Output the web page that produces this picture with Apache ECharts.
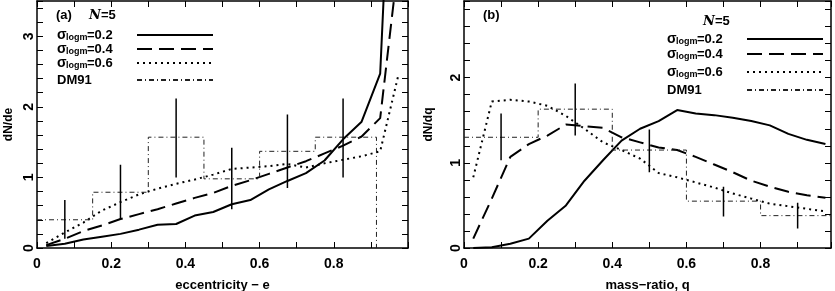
<!DOCTYPE html>
<html><head><meta charset="utf-8">
<script src="https://cdn.jsdelivr.net/npm/echarts@6/dist/echarts.min.js"></script>
<style>html,body{margin:0;padding:0;background:#fff}#c{width:835px;height:291px}</style>
</head><body><div id="c"></div>
<script>
// ---- data: panel (a) eccentricity ----
const eX = [0.025,0.075,0.125,0.175,0.225,0.275,0.325,0.375,0.425,0.475,0.525,0.575,0.625,0.675,0.725,0.775,0.825,0.875,0.925,0.975];
const eS02 = [0.03,0.06,0.12,0.16,0.20,0.26,0.33,0.34,0.46,0.51,0.62,0.68,0.83,0.95,1.06,1.24,1.54,1.79,2.47,8.2];
const eS04 = [0.04,0.13,0.24,0.32,0.41,0.48,0.55,0.63,0.71,0.78,0.88,0.96,1.05,1.14,1.23,1.34,1.45,1.58,1.84,4.1];
const eS06 = [0.07,0.22,0.36,0.53,0.65,0.76,0.84,0.91,0.97,1.04,1.12,1.14,1.16,1.19,1.14,1.20,1.25,1.30,1.37,2.47];
const eDMEdges = [0,0.15,0.3,0.45,0.6,0.75,0.915];
const eDMVals = [0.40,0.79,1.57,0.98,1.37,1.57];
const eErrX = [0.075,0.225,0.375,0.525,0.675,0.825];
const eErrLo = [0.13,0.40,1.00,0.55,0.85,1.00];
const eErrHi = [0.68,1.18,2.12,1.42,1.89,2.12];
// ---- data: panel (b) mass ratio ----
const qX = eX;
const qS02 = [0.00,0.01,0.05,0.11,0.32,0.50,0.79,1.03,1.26,1.40,1.49,1.62,1.58,1.56,1.53,1.49,1.44,1.34,1.27,1.22];
const qS04 = [0.11,0.58,1.07,1.22,1.32,1.45,1.43,1.41,1.30,1.24,1.18,1.15,1.07,0.98,0.89,0.79,0.72,0.66,0.62,0.59];
const qS06 = [0.83,1.72,1.74,1.72,1.67,1.55,1.40,1.24,1.15,1.05,0.88,0.83,0.77,0.71,0.64,0.58,0.52,0.49,0.46,0.43];
const qDMEdges = [0,0.2,0.4,0.6,0.8,1.0];
const qDMVals = [1.30,1.63,1.15,0.55,0.38];
const qErrX = [0.1,0.3,0.5,0.7,0.9];
const qErrLo = [1.03,1.32,0.89,0.37,0.23];
const qErrHi = [1.58,1.93,1.39,0.72,0.53];
const names = ['σ=0.2','σ=0.4','σ=0.6','DM91'];

const FONT = 'Liberation Sans';
function zip(x,y){return x.map((v,i)=>[v,y[i]]);}
function steps(edges,vals){const p=[];vals.forEach((v,i)=>{p.push([edges[i],v]);p.push([edges[i+1],v]);});p.push([edges[edges.length-1],0]);return p;}
function errs(x,lo,hi){const p=[];x.forEach((v,i)=>{p.push([v,lo[i]]);p.push([v,hi[i]]);p.push('-');});return p;}

function xAx(gi, max, name, pos){
  const main = pos==='bottom';
  return {type:'value', gridIndex:gi, position:pos, min:0, max:max, interval:0.1,
    name: main?name:'', nameLocation:'middle', nameGap:31,
    nameTextStyle:{fontFamily:FONT,fontWeight:'bold',fontSize:13,color:'#000'},
    axisLine:{show:true,onZero:false,lineStyle:{color:'#000',width:1.5}},
    axisTick:{show:true,inside:true,length:6,lineStyle:{color:'#000',width:1}},
    splitLine:{show:false},
    axisLabel:{show:main,margin:9,fontFamily:FONT,fontWeight:'bold',fontSize:14,color:'#000',
      formatter:v=>{const k=v*5;if(Math.abs(k-Math.round(k))>1e-6)return '';if(Math.abs(v)<1e-9)return '0';if(v>0.95)return '';return v.toFixed(1);}}};
}
function yAx(gi, max, name, pos, gap){
  const main = pos==='left';
  return {type:'value', gridIndex:gi, position:pos, min:0, max:max, interval:0.2,
    name: main?name:'', nameLocation:'middle', nameGap:gap||22, nameRotate:90,
    nameTextStyle:{fontFamily:FONT,fontWeight:'bold',fontSize:12,color:'#000'},
    axisLine:{show:true,onZero:false,lineStyle:{color:'#000',width:1.5}},
    axisTick:{show:true,inside:true,length:6,lineStyle:{color:'#000',width:1}},
    splitLine:{show:false},
    axisLabel:{show:main,rotate:90,margin:1,fontFamily:FONT,fontWeight:'bold',fontSize:14,color:'#000',
      formatter:v=>{if(Math.abs(v-Math.round(v))>1e-6)return '';return String(Math.round(v));}}};
}
const styles = [
  {type:'solid',width:2},
  {type:[15,7],width:2},
  {type:[2,4],width:2},
  {type:[5,3,1,3],width:1}
];
function series(gi, x, s2, s4, s6, edges, vals, ex, lo, hi){
  const xi=gi*2, yi=gi*2;
  const base = {type:'line', xAxisIndex:xi, yAxisIndex:yi, symbol:'none', silent:true, animation:false, clip:true};
  return [
    Object.assign({},base,{name:names[0],data:zip(x,s2),lineStyle:Object.assign({color:'#000'},styles[0]),itemStyle:{color:'#000'}}),
    Object.assign({},base,{name:names[1],data:zip(x,s4),lineStyle:Object.assign({color:'#000'},styles[1]),itemStyle:{color:'#000'}}),
    Object.assign({},base,{name:names[2],data:zip(x,s6),lineStyle:Object.assign({color:'#000'},styles[2]),itemStyle:{color:'#000'}}),
    Object.assign({},base,{name:names[3],data:steps(edges,vals),lineStyle:Object.assign({color:'#222'},styles[3]),itemStyle:{color:'#222'}}),
    Object.assign({},base,{name:'err',data:errs(ex,lo,hi),connectNulls:false,lineStyle:{color:'#000',width:1.5},itemStyle:{color:'#000'}})
  ];
}
const rich = {
  s:{fontFamily:FONT,fontWeight:'bold',fontSize:14,color:'#000',lineHeight:14,verticalAlign:'top',width:9,align:'left'},
  b:{fontFamily:FONT,fontWeight:'bold',fontSize:9,color:'#000',lineHeight:9,verticalAlign:'bottom',width:21,align:'left'},
  t:{fontFamily:FONT,fontWeight:'bold',fontSize:13,color:'#000',lineHeight:14,width:45,align:'left'},
  w:{fontFamily:FONT,fontWeight:'bold',fontSize:13,color:'#000',lineHeight:14,width:75,align:'left'}
};
function legendItem(idx, left, top){
  return {show:true, orient:'vertical', left:left, top:top, align:'right', data:[names[idx]],
    itemWidth:76, itemHeight:14, itemGap:0, padding:0, selectedMode:false,
    itemStyle:{opacity:0},
    textStyle:{fontFamily:FONT,fontWeight:'bold',fontSize:13,color:'#000',lineHeight:14, rich:rich},
    formatter:n=>{ if(n==='DM91') return '{w|DM91}'; return '{s|σ}{b|logm}{t|='+n.slice(2)+'}'; }};
}
const NSTYLE = {fontFamily:'DejaVu Serif',fontStyle:'italic',fontWeight:'bold',fontSize:13,color:'#000'};
const chart = echarts.init(document.getElementById('c'), null, {renderer:'canvas'});
chart.setOption({
  animation:false,
  backgroundColor:'#fff',
  grid:[{left:37,top:1,width:371,height:247,containLabel:false,outerBoundsMode:'none'},
        {left:464,top:1,width:367,height:247,containLabel:false,outerBoundsMode:'none'}],
  xAxis:[xAx(0,1.0,'eccentricity − e','bottom'),xAx(0,1.0,'','top'),xAx(1,0.99,'mass−ratio, q','bottom'),xAx(1,0.99,'','top')],
  yAxis:[yAx(0,3.5,'dN/de','left',22),yAx(0,3.5,'','right'),yAx(1,2.9,'dN/dq','left',29),yAx(1,2.9,'','right')],
  title:[
    {text:'(a)',left:56,top:9,padding:0,textStyle:{fontFamily:FONT,fontWeight:'bold',fontSize:13,color:'#000'}},
    {text:'{n|N}{t|=5}',left:89,top:9,padding:0,textStyle:{rich:{n:NSTYLE,t:{fontFamily:FONT,fontWeight:'bold',fontSize:13,color:'#000'}}}},
    {text:'(b)',left:483,top:9,padding:0,textStyle:{fontFamily:FONT,fontWeight:'bold',fontSize:13,color:'#000'}},
    {text:'{n|N}{t|=5}',left:703,top:15,padding:0,textStyle:{rich:{n:NSTYLE,t:{fontFamily:FONT,fontWeight:'bold',fontSize:13,color:'#000'}}}}
  ],
  legend:[
    legendItem(0,57,28),legendItem(1,57,42),legendItem(2,57,56),legendItem(3,57,73),
    legendItem(0,667,32),legendItem(1,667,47),legendItem(2,667,65),legendItem(3,667,83)
  ],
  series:[].concat(
    series(0,eX,eS02,eS04,eS06,eDMEdges,eDMVals,eErrX,eErrLo,eErrHi),
    series(1,qX,qS02,qS04,qS06,qDMEdges,qDMVals,qErrX,qErrLo,qErrHi)
  )
});
</script></body></html>
